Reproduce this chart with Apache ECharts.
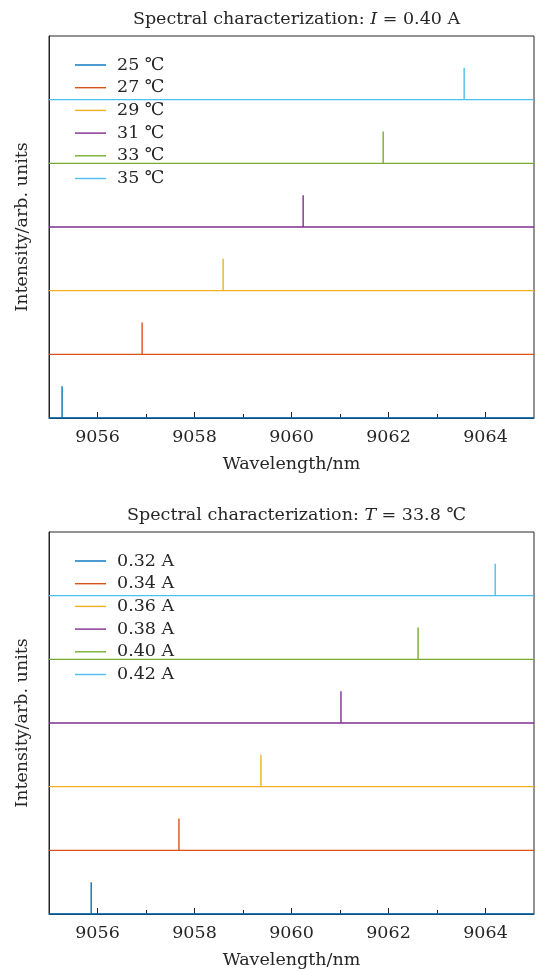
<!DOCTYPE html>
<html><head><meta charset="utf-8">
<script src="https://cdn.jsdelivr.net/npm/echarts@6/dist/echarts.min.js"></script>
<style>html,body{margin:0;padding:0;background:#fff}#c{width:537px;height:971px}</style>
</head><body><div id="c"></div>
<script>
// Top panel: temperature sweep at I = 0.40 A
const tempLabels = ['25 ℃','27 ℃','29 ℃','31 ℃','33 ℃','35 ℃'];
const tempPeaks = [9055.27, 9056.92, 9058.59, 9060.24, 9061.89, 9063.56];
const tempHeights = [0.5, 0.5, 0.5, 0.5, 0.5, 0.5];
// Bottom panel: current sweep at T = 33.8 ℃
const currLabels = ['0.32 A','0.34 A','0.36 A','0.38 A','0.40 A','0.42 A'];
const currPeaks = [9055.87, 9057.68, 9059.37, 9061.02, 9062.61, 9064.20];
const currHeights = [0.5, 0.5, 0.5, 0.5, 0.5, 0.5];
// Offsets (stacking) and axis values
const offsets = [0, 1, 2, 3, 4, 5];
const xMin = 9055, xMax = 9065;
const majorTicks = [9056, 9058, 9060, 9062, 9064];
const minorTicks = [9057, 9059, 9061, 9063];

const colors = ['#0072BD','#D95319','#EDB120','#7E2F8E','#77AC30','#4DBEEE'];
const FONT = 'DejaVu Serif';
const FS = 17.5;
const gridTop = [36, 532];
const gridH = 382;

function spectrum(peak, off, h) {
  return [[xMin, off], [peak, off], [peak, off + h], [peak, off], [xMax, off]];
}

const grids = [], xAxes = [], yAxes = [], series = [], legends = [], titles = [];
const panels = [
  {labels: tempLabels, peaks: tempPeaks, heights: tempHeights,
   title: {text: 'Spectral characterization: {i|I}{n| = 0.40 A}'}},
  {labels: currLabels, peaks: currPeaks, heights: currHeights,
   title: {text: 'Spectral characterization: {i|T}{n| = 33.8 ℃}'}}
];
panels.forEach((p, k) => {
  grids.push({left: 49, right: 3, top: gridTop[k], height: gridH, show: true,
    borderColor: '#262626', borderWidth: 1, backgroundColor: 'transparent'});
  xAxes.push({type: 'value', gridIndex: k, min: xMin, max: xMax,
    name: 'Wavelength/nm', nameLocation: 'middle', nameGap: 37,
    nameTextStyle: {fontFamily: FONT, fontSize: FS, color: '#262626'},
    axisLine: {show: true, onZero: false, lineStyle: {color: '#262626', width: 1}},
    axisTick: {show: true, inside: true, length: 6, customValues: majorTicks, lineStyle: {color: '#262626'}},
    axisLabel: {customValues: majorTicks, margin: 10, fontFamily: FONT, fontSize: FS, color: '#262626',
      formatter: v => String(Math.round(v))},
    splitLine: {show: false}});
  xAxes.push({type: 'value', gridIndex: k, min: xMin, max: xMax, position: 'bottom',
    axisLine: {show: false},
    axisTick: {show: true, inside: true, length: 4, customValues: minorTicks, lineStyle: {color: '#262626'}},
    axisLabel: {show: false}, splitLine: {show: false}});
  yAxes.push({type: 'value', gridIndex: k, min: 0, max: 6,
    name: 'Intensity/arb. units', nameLocation: 'middle', nameGap: 18,
    nameTextStyle: {fontFamily: FONT, fontSize: FS, color: '#262626'},
    axisLine: {show: true, lineStyle: {color: '#262626'}},
    axisTick: {show: false}, axisLabel: {show: false}, splitLine: {show: false}});
  p.labels.forEach((lab, i) => {
    series.push({type: 'line', name: lab, xAxisIndex: 2 * k, yAxisIndex: k,
      data: spectrum(p.peaks[i], offsets[i], p.heights[i]),
      symbol: 'none', lineStyle: {color: colors[i], width: 1.4}, itemStyle: {color: colors[i]},
      z: 2, animation: false});
  });
  legends.push({data: p.labels, orient: 'vertical', left: 75, top: gridTop[k] + 20,
    itemWidth: 31, itemHeight: 14, itemGap: 4.7, icon: 'path://M0,0L31,0L31,1.4L0,1.4Z',
    textStyle: {fontFamily: FONT, fontSize: FS, color: '#262626', padding: [0, 0, 0, 6]}, padding: 0});
  titles.push({text: p.title.text, left: 291.5, top: gridTop[k] - 31, textAlign: 'center',
    textStyle: {fontFamily: FONT, fontSize: FS, fontWeight: 'normal', color: '#262626',
      rich: {i: {fontFamily: FONT, fontSize: FS, fontStyle: 'italic', color: '#262626'},
             n: {fontFamily: FONT, fontSize: FS, color: '#262626'}}}});
});

const chart = echarts.init(document.getElementById('c'), null, {renderer: 'canvas'});
chart.setOption({
  animation: false, color: colors, title: titles, grid: grids,
  xAxis: xAxes, yAxis: yAxes, legend: legends, series: series
});
</script></body></html>
